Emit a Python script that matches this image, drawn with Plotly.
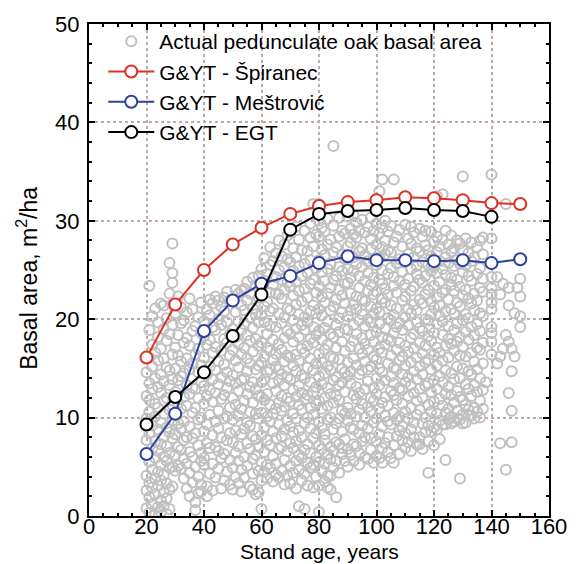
import plotly.graph_objects as go

# ---- model curves ----
ages = [20, 30, 40, 50, 60, 70, 80, 90, 100, 110, 120, 130, 140, 150]
spiranec = [16.1, 21.5, 25.0, 27.6, 29.3, 30.7, 31.5, 31.9, 32.1, 32.4, 32.3, 32.1, 31.8, 31.7]
mestrovic = [6.3, 10.4, 18.8, 21.9, 23.6, 24.4, 25.7, 26.4, 26.0, 26.0, 25.9, 26.0, 25.7, 26.1]
egt_ages = [20, 30, 40, 50, 60, 70, 80, 90, 100, 110, 120, 130, 140]
egt = [9.3, 12.1, 14.6, 18.3, 22.5, 29.1, 30.7, 31.0, 31.1, 31.3, 31.1, 31.0, 30.4]

obs_20s = [
    (20, [0.8, 2.6, 4.1, 6.3, 7.7, 9.9, 12.2, 14.6]),
    (21, [0.3, 1.9, 3.4, 5.5, 8.4, 10.6, 11.8, 13.5, 16.1, 18.9, 23.4]),
    (22, [1.2, 2.9, 4.7, 6.9, 9.2, 12.9, 15.2, 17.4, 20.3]),
    (23, [0.1, 2.2, 3.8, 5.9, 7.6, 10.1, 11.4, 14.0, 16.6, 21.1]),
    (24, [0.9, 3.1, 4.5, 6.6, 8.8, 11.0, 13.1, 15.8, 18.2, 19.7]),
    (25, [0.4, 1.6, 3.6, 5.2, 7.3, 9.5, 12.5, 14.4, 17.0, 21.6]),
    (26, [1.0, 2.4, 4.2, 6.0, 8.1, 10.4, 11.7, 13.7, 16.0, 19.0, 21.4]),
    (27, [0.2, 1.8, 3.3, 5.6, 7.1, 9.0, 12.0, 15.1, 17.8, 20.1]),
    (28, [0.7, 2.7, 4.9, 6.4, 8.5, 10.8, 13.3, 14.8, 18.5, 22.6, 25.7]),
    (29, [3.0, 5.0, 7.9, 9.7, 11.3, 13.9, 16.4, 19.4, 21.5, 23.7, 24.7, 27.7]),
]
obs_30s = [
    (30, [4.6, 6.2, 8.3, 10.2, 12.6, 15.0, 17.1, 20.6]),
    (31, [5.1, 7.0, 9.4, 11.5, 13.8, 16.3, 18.4, 22.3]),
    (32, [4.8, 6.7, 8.9, 10.9, 14.2, 15.7, 19.6, 21.2]),
    (33, [3.8, 5.9, 7.7, 9.6, 12.1, 14.5, 17.6, 19.9]),
    (34, [2.8, 5.3, 8.0, 11.2, 13.3, 16.0, 18.1, 20.7]),
    (35, [2.0, 4.4, 6.5, 9.1, 12.4, 14.9, 17.3, 22.1]),
    (36, [3.4, 6.0, 7.9, 10.5, 13.0, 15.5, 18.8, 21.0]),
    (37, [0.6, 1.4, 5.0, 8.4, 11.0, 12.9, 16.4, 19.3]),
    (38, [2.3, 4.0, 7.2, 9.8, 12.0, 14.6, 17.0, 20.2]),
    (39, [2.5, 3.2, 5.6, 6.4, 10.0, 13.6, 15.3, 18.6, 21.7]),
]
obs_40s = [
    (40, [5.2, 5.9, 8.6, 11.4, 13.2, 16.1, 18.3, 19.8]),
    (41, [2.0, 3.0, 7.4, 9.3, 12.2, 14.4, 17.4, 21.0]),
    (42, [4.3, 6.9, 10.3, 12.8, 15.2, 17.9, 20.4, 22.0]),
    (43, [2.6, 5.3, 8.2, 11.6, 13.9, 16.6, 19.2, 21.6]),
    (44, [3.9, 7.0, 9.6, 12.5, 14.8, 17.2, 18.9, 22.3]),
    (45, [4.8, 6.6, 8.9, 10.7, 13.4, 15.7, 20.0, 21.9]),
    (46, [2.8, 5.9, 8.0, 11.9, 14.1, 16.8, 19.4, 21.3]),
    (47, [3.6, 6.3, 9.9, 12.3, 15.4, 18.0, 20.8, 22.2]),
    (48, [4.5, 7.7, 10.1, 13.0, 14.6, 17.6, 19.7, 22.8]),
    (49, [3.2, 5.7, 8.4, 11.0, 13.7, 16.3, 18.5, 21.9]),
]
obs_50s = [
    (50, [2.7, 4.9, 7.5, 9.8, 12.0, 14.3, 16.9, 19.0, 22.0]),
    (51, [4.0, 6.4, 8.7, 11.3, 13.5, 15.8, 18.2, 20.7, 23.0]),
    (52, [3.3, 5.6, 7.1, 10.2, 12.7, 15.1, 17.5, 19.8, 22.6]),
    (53, [2.5, 4.7, 8.3, 10.9, 13.8, 16.4, 18.9, 21.4, 22.9]),
    (54, [3.9, 6.0, 8.9, 11.7, 14.0, 17.1, 19.5, 20.9, 23.1]),
    (55, [5.1, 7.4, 9.5, 12.4, 14.7, 16.0, 18.4, 21.9, 23.8]),
    (56, [3.0, 6.8, 9.2, 10.6, 13.1, 15.5, 17.8, 20.2, 22.6]),
    (57, [2.7, 4.3, 5.8, 8.1, 11.5, 13.6, 16.7, 19.1, 21.1, 24.2]),
    (58, [2.2, 6.2, 7.8, 10.4, 12.9, 14.9, 18.0, 20.5, 23.4]),
    (59, [2.4, 4.6, 7.0, 9.9, 12.2, 15.3, 17.3, 19.7, 22.2, 24.4]),
]
obs_60s = [
    (60, [0.7, 3.6, 5.5, 8.2, 10.5, 12.1, 13.6, 15.6, 17.6, 20.4, 22.9, 25.1]),
    (61, [4.5, 6.5, 9.0, 11.8, 13.9, 16.2, 19.7, 21.3, 23.9, 26.2]),
    (62, [3.8, 5.2, 7.7, 10.1, 12.4, 14.6, 17.1, 18.5, 21.8, 24.6]),
    (63, [4.9, 7.2, 9.6, 11.3, 14.9, 16.8, 19.3, 20.8, 22.7, 25.5, 27.3]),
    (64, [3.5, 6.1, 8.6, 10.4, 13.5, 15.9, 17.9, 21.1, 23.5, 25.9]),
    (65, [4.2, 5.3, 7.9, 10.9, 12.7, 15.2, 16.5, 19.2, 22.6, 24.3, 26.7]),
    (66, [3.9, 6.8, 9.3, 11.5, 13.8, 14.9, 17.5, 20.6, 22.5, 25.0, 28.0]),
    (67, [4.6, 7.0, 8.1, 10.7, 12.2, 14.4, 16.9, 19.6, 22.1, 24.0, 26.4]),
    (68, [3.2, 5.7, 8.8, 11.1, 13.3, 15.7, 18.1, 20.2, 23.0, 25.3, 27.6]),
    (69, [4.1, 6.6, 9.7, 12.0, 14.1, 16.3, 18.8, 21.1, 23.7, 26.1, 28.5]),
]
obs_70s = [
    (70, [3.3, 5.1, 7.4, 9.1, 11.6, 13.9, 16.1, 18.5, 20.9, 23.3, 25.8, 28.8]),
    (71, [4.4, 6.9, 8.5, 10.4, 12.8, 15.3, 17.7, 19.9, 22.4, 24.9, 27.2]),
    (72, [2.8, 5.6, 7.6, 9.9, 12.1, 14.7, 16.4, 19.0, 21.5, 23.8, 26.3, 29.4]),
    (73, [1.0, 4.7, 6.2, 8.7, 11.3, 13.2, 15.8, 18.2, 20.5, 22.9, 25.4, 28.1]),
    (74, [3.6, 5.9, 8.0, 10.8, 12.5, 14.3, 17.0, 19.4, 21.8, 24.4, 27.0]),
    (75, [0.7, 4.3, 6.7, 9.4, 11.9, 14.0, 16.6, 18.9, 20.2, 23.1, 25.6, 29.0]),
    (76, [3.1, 5.4, 7.3, 10.0, 12.3, 15.1, 17.3, 19.7, 22.2, 24.7, 26.9]),
    (77, [4.9, 6.4, 8.9, 11.0, 13.6, 16.0, 18.0, 20.8, 23.6, 26.0, 28.3, 29.7]),
    (78, [2.9, 5.2, 7.9, 10.3, 12.6, 14.8, 17.6, 19.2, 21.4, 24.0, 27.4, 31.7]),
    (79, [4.0, 6.0, 8.4, 11.4, 13.1, 15.5, 18.4, 20.6, 22.7, 25.2, 28.6]),
]
obs_80s = [
    (80, [0.4, 3.1, 5.5, 7.2, 9.6, 11.7, 14.2, 16.5, 18.8, 21.0, 23.4, 26.0, 28.4, 30.0, 31.7]),
    (81, [4.6, 6.8, 9.0, 10.9, 13.4, 15.6, 17.9, 20.4, 22.3, 24.8, 27.1, 29.3]),
    (82, [3.5, 5.3, 7.7, 8.3, 12.0, 14.5, 16.9, 19.1, 21.7, 23.9, 26.5, 28.9]),
    (83, [2.9, 4.1, 6.3, 9.8, 11.2, 13.0, 15.2, 17.4, 19.8, 22.6, 25.1, 27.6, 30.2]),
    (84, [2.7, 4.1, 5.8, 7.0, 10.0, 12.4, 14.8, 16.2, 18.5, 20.9, 23.2, 25.6, 28.1]),
    (85, [4.9, 6.6, 8.8, 11.5, 13.8, 16.0, 18.2, 21.3, 24.0, 26.8, 29.5, 37.6]),
    (86, [1.9, 5.6, 7.5, 9.4, 12.2, 14.1, 17.1, 19.4, 22.0, 24.4, 27.3]),
    (87, [4.4, 7.3, 9.9, 11.8, 13.3, 15.9, 18.7, 20.1, 23.0, 25.3, 28.4, 30.3]),
    (88, [6.3, 6.9, 8.6, 10.7, 13.6, 15.0, 17.7, 20.7, 22.4, 24.9, 26.6, 29.0]),
    (89, [5.6, 7.8, 10.4, 12.6, 14.6, 16.8, 19.0, 21.6, 23.6, 26.2, 28.7]),
]
obs_90s = [
    (90, [5.0, 6.8, 9.7, 11.0, 14.2, 15.6, 18.9, 20.3, 23.7, 25.1, 27.4, 30.4]),
    (91, [6.2, 9.0, 10.4, 13.5, 14.7, 17.2, 20.9, 22.6, 24.2, 27.8, 29.2]),
    (92, [5.6, 7.3, 8.8, 12.3, 16.0, 17.8, 19.4, 21.5, 24.9, 26.3, 28.6, 30.6]),
    (93, [7.1, 10.1, 11.9, 13.1, 15.3, 18.5, 21.0, 22.3, 25.6, 28.3, 29.8]),
    (94, [5.2, 6.4, 8.4, 10.8, 12.5, 14.4, 17.0, 19.9, 23.2, 24.4, 26.9, 29.0]),
    (95, [7.6, 9.2, 11.4, 14.8, 16.5, 18.1, 20.5, 22.0, 25.3, 27.2, 30.1]),
    (96, [6.0, 8.0, 10.0, 12.9, 15.7, 17.5, 19.3, 21.8, 23.9, 26.5, 28.8]),
    (97, [5.8, 8.9, 11.1, 13.7, 14.9, 16.9, 20.0, 22.9, 24.7, 25.9, 29.4]),
    (98, [6.7, 7.9, 10.6, 12.0, 15.2, 18.4, 19.7, 21.3, 23.5, 27.1, 28.2, 30.3]),
    (99, [5.4, 9.5, 11.7, 13.0, 16.2, 17.7, 20.6, 22.5, 24.2, 26.0, 29.0]),
]
obs_100s = [
    (100, [6.1, 7.6, 9.9, 12.4, 14.0, 15.9, 18.7, 21.1, 22.8, 25.5, 27.6, 29.7]),
    (101, [5.9, 8.3, 10.9, 13.3, 15.0, 17.0, 19.5, 20.7, 24.0, 26.2, 28.7, 33.0]),
    (102, [5.4, 6.9, 9.1, 11.5, 14.6, 16.6, 18.2, 22.1, 23.6, 25.0, 27.3, 29.3, 34.2]),
    (103, [7.4, 10.2, 12.1, 13.8, 17.4, 19.0, 21.7, 23.1, 26.6, 28.0, 30.0]),
    (104, [6.5, 8.0, 9.6, 11.2, 15.5, 18.0, 20.1, 22.5, 24.6, 27.0, 28.9]),
    (105, [5.9, 9.3, 12.7, 14.2, 16.3, 17.8, 19.9, 21.4, 25.2, 26.8, 29.5]),
    (106, [5.4, 7.2, 10.5, 12.3, 13.5, 15.1, 18.6, 20.4, 23.4, 24.3, 27.8, 34.2]),
    (107, [8.1, 9.8, 11.8, 14.9, 16.9, 19.2, 21.1, 22.7, 25.7, 28.4]),
    (108, [6.3, 8.7, 10.1, 13.0, 15.8, 17.6, 19.6, 23.9, 26.1, 29.1]),
    (109, [7.7, 9.1, 11.4, 12.8, 14.4, 16.2, 18.9, 21.9, 24.8, 27.4]),
]
obs_110s = [
    (110, [6.9, 8.4, 10.6, 13.6, 15.3, 17.3, 20.2, 22.3, 23.5, 25.9, 29.6]),
    (111, [7.5, 9.9, 12.2, 14.1, 16.7, 19.4, 21.0, 24.1, 26.6, 28.2]),
    (112, [6.6, 8.8, 11.0, 13.3, 15.6, 18.1, 20.6, 22.9, 25.1, 27.7, 29.4]),
    (113, [8.0, 9.5, 12.5, 14.7, 17.0, 18.5, 21.5, 23.3, 26.3, 28.8]),
    (114, [7.3, 10.3, 11.7, 13.9, 16.1, 19.7, 20.9, 24.6, 25.4, 27.2]),
    (115, [7.3, 8.0, 10.8, 12.9, 15.2, 17.6, 19.1, 22.0, 24.0, 26.9, 29.2]),
    (116, [6.8, 9.4, 12.0, 14.4, 16.5, 18.8, 21.6, 23.7, 25.8, 28.4]),
    (117, [8.5, 10.0, 13.2, 15.6, 17.3, 20.0, 22.5, 24.4, 27.5, 29.0]),
    (118, [4.4, 7.6, 9.2, 11.3, 13.5, 15.9, 18.3, 19.9, 23.0, 25.5, 27.0]),
    (119, [8.6, 10.6, 12.6, 14.9, 17.8, 20.5, 21.8, 24.9, 26.4, 28.9]),
]
obs_120s = [
    (120, [7.2, 9.0, 11.6, 13.8, 16.4, 18.6, 21.2, 23.4, 25.3, 27.9]),
    (121, [8.8, 10.4, 12.9, 15.3, 17.1, 19.5, 22.2, 24.7, 26.8, 28.4, 32.5]),
    (122, [7.8, 9.7, 11.9, 14.2, 16.6, 20.3, 21.4, 23.8, 25.9, 27.4]),
    (123, [9.3, 11.2, 13.6, 15.8, 18.4, 19.8, 22.7, 25.1, 28.1, 32.7]),
    (124, [5.7, 9.3, 10.5, 12.4, 14.8, 17.3, 20.8, 23.0, 24.5, 26.3, 29.0]),
    (125, [9.8, 10.9, 13.1, 16.1, 18.0, 19.3, 22.0, 25.7, 27.6]),
    (126, [9.4, 10.1, 12.3, 14.5, 17.5, 21.0, 23.5, 24.2, 26.9, 28.5]),
    (127, [9.6, 11.5, 13.9, 16.8, 18.9, 20.6, 22.9, 25.4, 27.2]),
    (128, [9.9, 10.7, 12.7, 15.2, 17.7, 19.6, 21.7, 24.0, 26.0, 28.0]),
    (129, [3.8, 9.8, 12.1, 14.0, 16.3, 18.2, 21.3, 23.3, 25.6, 27.7]),
]
obs_130s = [
    (130, [9.4, 10.3, 11.8, 15.0, 17.2, 19.9, 22.4, 24.8, 27.0, 34.5]),
    (131, [9.5, 11.3, 13.4, 16.2, 18.7, 20.5, 23.0, 25.5, 28.2]),
    (132, [10.2, 10.8, 12.9, 14.7, 17.9, 20.1, 22.1, 24.4, 26.7]),
    (133, [10.2, 12.2, 14.4, 16.6, 19.2, 21.6, 23.9, 25.9, 27.8]),
    (134, [9.9, 11.0, 13.3, 15.7, 18.4, 20.9, 22.6, 26.3]),
    (135, [10.6, 12.6, 14.9, 17.1, 19.5, 21.9, 24.6, 27.3]),
    (136, [10.0, 11.7, 14.0, 16.9, 18.8, 20.6, 23.2, 25.2, 28.0]),
    (137, [10.9, 12.8, 15.5, 17.6, 20.3, 22.8, 24.1, 26.6, 28.3]),
    (138, [13.6]),
    (140, [16.4, 17.7, 18.6, 19.2, 21.0, 21.7, 22.5, 23.2, 24.3, 28.2, 34.7]),
    (142, [15.5, 24.3]),
    (143, [7.4, 16.2, 22.5]),
    (144, [17.0, 23.6]),
    (145, [4.7, 18.4, 31.7]),
    (146, [12.5, 17.7, 21.4, 23.2]),
    (147, [7.5, 10.7, 14.7, 17.0]),
    (148, [16.2, 20.6]),
    (149, [23.2]),
    (150, [19.2, 20.3, 22.3, 24.1]),
]

obs_groups = [obs_20s, obs_30s, obs_40s, obs_50s, obs_60s, obs_70s,
              obs_80s, obs_90s, obs_100s, obs_110s, obs_120s, obs_130s]
obs_x, obs_y = [], []
for grp in obs_groups:
    for age, vals in grp:
        for v in vals:
            obs_x.append(age)
            obs_y.append(v)

FONT = "Liberation Sans, Arial, sans-serif"
GRID = "rgb(188,172,166)"

fig = go.Figure()
fig.add_trace(go.Scatter(
    x=obs_x, y=obs_y, mode="markers", name="Actual pedunculate oak basal area",
    marker=dict(symbol="circle-open", size=10, color="rgb(192,192,192)",
                line=dict(width=2, color="rgb(192,192,192)")),
    legendgroup="a",
))
fig.add_trace(go.Scatter(
    x=ages, y=spiranec, mode="lines+markers", name="G&YT - Špiranec",
    line=dict(color="rgb(222,48,36)", width=2),
    marker=dict(symbol="circle", size=12, color="white",
                line=dict(color="rgb(222,48,36)", width=2)),
    legendgroup="b",
))
fig.add_trace(go.Scatter(
    x=ages, y=mestrovic, mode="lines+markers", name="G&YT - Meštrović",
    line=dict(color="rgb(44,66,156)", width=2),
    marker=dict(symbol="circle", size=12, color="white",
                line=dict(color="rgb(44,66,156)", width=2)),
    legendgroup="c",
))
fig.add_trace(go.Scatter(
    x=egt_ages, y=egt, mode="lines+markers", name="G&YT - EGT",
    line=dict(color="black", width=2),
    marker=dict(symbol="circle", size=12, color="white",
                line=dict(color="black", width=2)),
    legendgroup="d",
))

axis_common = dict(
    showline=True, linecolor="black", linewidth=2, mirror="allticks",
    ticks="inside", ticklen=6, tickwidth=1.5, tickcolor="black",
    showgrid=True, gridcolor=GRID, gridwidth=1.5, griddash="dot",
    zeroline=False, tickfont=dict(family=FONT, size=22, color="black"),
    ticklabeloverflow="allow",
)

fig.update_xaxes(range=[0, 160], dtick=20, tick0=0, ticklabelstandoff=-10,
                 minor=dict(dtick=5, ticks="inside", ticklen=3, tickcolor="black", showgrid=False),
                 **axis_common)
fig.update_yaxes(range=[0, 50], dtick=10, tick0=0, ticklabelstandoff=3,
                 minor=dict(dtick=2, ticks="inside", ticklen=3, tickcolor="black", showgrid=False),
                 **axis_common)

fig.add_annotation(text="Stand age, years", xref="paper", yref="paper",
                   x=0.5, y=-0.0723, xanchor="center", yanchor="middle",
                   showarrow=False, font=dict(family=FONT, size=21, color="black"))
fig.add_annotation(text="Basal area, m<sup>2</sup>/ha", xref="paper", yref="paper",
                   x=-0.135, y=0.484, xanchor="center", yanchor="middle", textangle=-90,
                   showarrow=False, font=dict(family=FONT, size=23, color="black"))

fig.update_layout(
    width=579, height=564,
    margin=dict(l=89, r=17, t=18, b=48),
    paper_bgcolor="white", plot_bgcolor="white",
    showlegend=True,
    legend=dict(x=0.031, y=1.006, xanchor="left", yanchor="top",
                bgcolor="rgba(0,0,0,0)", borderwidth=0,
                font=dict(family=FONT, size=21, color="black"),
                itemwidth=46, tracegroupgap=5, traceorder="normal"),
)

fig.write_html("out.html")
